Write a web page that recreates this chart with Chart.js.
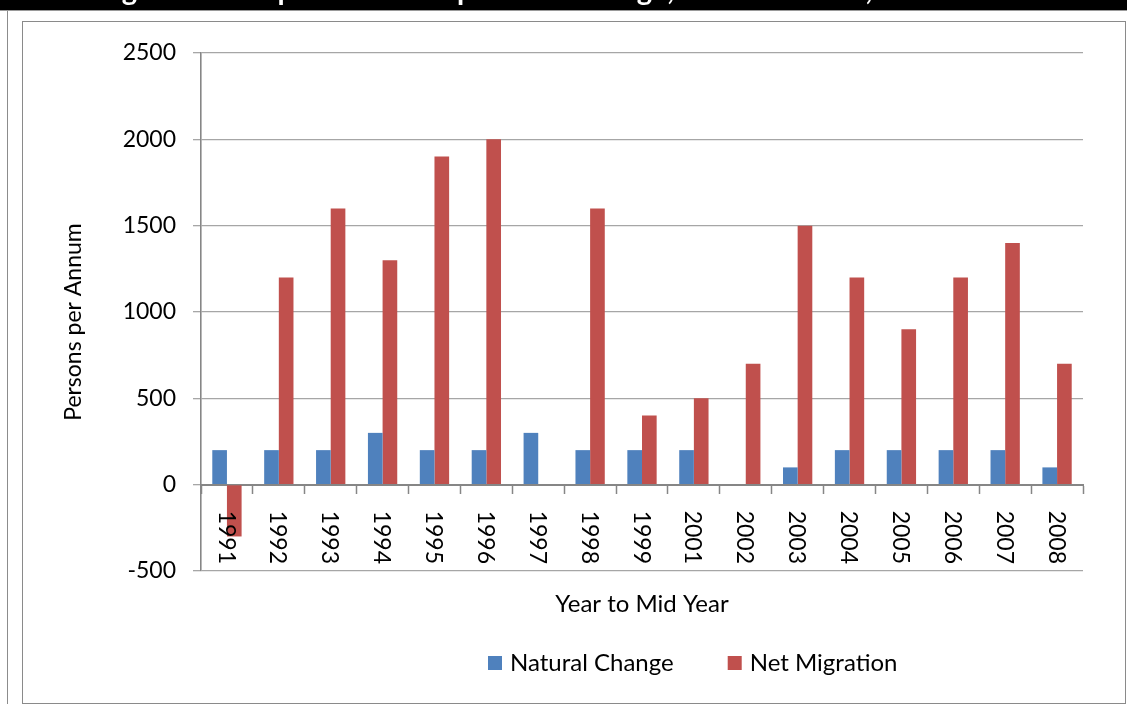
<!DOCTYPE html>
<html>
<head>
<meta charset="utf-8">
<script src="https://cdn.jsdelivr.net/npm/chart.js@4.4.1/dist/chart.umd.min.js"></script>
<style>
  html, body { margin: 0; padding: 0; background: #fff; width: 1127px; height: 704px; overflow: hidden; }
  #topbar { position: absolute; left: 0; top: 0; width: 1127px; height: 10px; background: #000; }
  #topline { position: absolute; left: 0; top: 10px; width: 1127px; height: 1px; background: #9a9a9a; }
  #outer { position: absolute; left: 7px; top: 11px; width: 1px; height: 693px; background: #8c8c8c; }
  #frame { position: absolute; left: 22px; top: 21px; width: 1104px; height: 683px; box-sizing: border-box; border: 1px solid #8a8a8a; }
  #chart { position: absolute; left: 0; top: 0; z-index: 2; }
</style>
</head>
<body>
<div id="topbar"></div>
<div id="topline"></div>
<div id="outer"></div>
<div id="frame"></div>
<canvas id="chart" width="1127" height="704"></canvas>
<script>
// Years to mid year (no 2000 entry in the series)
const years = ['1991', '1992', '1993', '1994', '1995', '1996', '1997', '1998', '1999',
               '2001', '2002', '2003', '2004', '2005', '2006', '2007', '2008'];

// Persons per annum
const naturalChange = [200, 200, 200, 300, 200, 200, 300, 200, 200, 200, 0, 100, 200, 200, 200, 200, 100];
const netMigration  = [-300, 1200, 1600, 1300, 1900, 2000, 0, 1600, 400, 500, 700, 1500, 1200, 900, 1200, 1400, 700];

const seriesNames  = ['Natural Change', 'Net Migration'];
const seriesColors = ['#4F81BD', '#C0504D'];

// Value axis: -500 to 2500 in steps of 500
const yRange = [-500, 2500];
const yStep = 500;

const figureTitle = 'Figure 5: Components of Population Change, the Local Area, 1991\u20132008';
const xTitle = 'Year to Mid Year';
const yTitle = 'Persons per Annum';

const FONT = 'Lato';

// Draws the rotated year labels under the zero line, axis titles and the legend
const annotate = {
  id: 'annotate',
  beforeDraw(chart) {
    const ctx = chart.ctx;
    ctx.save();
    ctx.fillStyle = '#fff';
    ctx.font = 'bold 29px ' + FONT;
    ctx.textBaseline = 'alphabetic';
    ctx.textAlign = 'left';
    ctx.fillText(figureTitle, 98, 0);
    ctx.restore();
  },
  afterDraw(chart) {
    const { ctx, chartArea } = chart;
    const x = chart.scales.x, y = chart.scales.y;
    const zeroY = y.getPixelForValue(0);
    ctx.save();
    ctx.fillStyle = '#000';

    // year labels, reading top to bottom
    ctx.font = '23px ' + FONT;
    ctx.textAlign = 'left';
    ctx.textBaseline = 'middle';
    chart.data.labels.forEach((lab, i) => {
      const px = x.getPixelForValue(i);
      ctx.save();
      ctx.translate(px - 1, zeroY + 26);
      ctx.rotate(Math.PI / 2);
      ctx.fillText(lab, 0, 0);
      ctx.restore();
    });

    // category axis title
    ctx.font = '24px ' + FONT;
    ctx.textAlign = 'center';
    ctx.textBaseline = 'alphabetic';
    ctx.fillText(xTitle, (chartArea.left + chartArea.right) / 2, 612);

    // value axis title
    ctx.save();
    ctx.font = '23px ' + FONT;
    ctx.translate(81, 322);
    ctx.rotate(-Math.PI / 2);
    ctx.fillText(yTitle, 0, 0);
    ctx.restore();

    // legend
    ctx.font = '24px ' + FONT;
    ctx.textAlign = 'left';
    let lx = 488;
    const base = 671;
    chart.data.datasets.forEach(ds => {
      ctx.fillStyle = ds.backgroundColor;
      ctx.fillRect(lx, base - 15, 14, 14);
      lx += 22;
      ctx.fillStyle = '#000';
      ctx.fillText(ds.label, lx, base);
      lx += ctx.measureText(ds.label).width + 54;
    });
    ctx.restore();
  }
};

new Chart(document.getElementById('chart'), {
  type: 'bar',
  data: {
    labels: years,
    datasets: [
      { label: seriesNames[0], data: naturalChange, backgroundColor: seriesColors[0] },
      { label: seriesNames[1], data: netMigration, backgroundColor: seriesColors[1] }
    ]
  },
  options: {
    responsive: false,
    devicePixelRatio: 1,
    animation: false,
    categoryPercentage: 0.565,
    barPercentage: 1.0,
    layout: { padding: { left: 23, top: 53, right: 44, bottom: 133 } },
    plugins: {
      legend: { display: false },
      title: { display: false },
      tooltip: { enabled: false }
    },
    scales: {
      x: {
        axis: 'x',
        position: { y: 0 },
        z: 1,
        offset: true,
        grid: {
          offset: true,
          drawOnChartArea: false,
          drawTicks: true,
          tickLength: 8,
          tickColor: '#868686',
          tickWidth: 1.5
        },
        border: { display: true, color: '#868686', width: 2 },
        ticks: { display: false }
      },
      y: {
        min: yRange[0],
        max: yRange[1],
        afterFit(scale) { scale.width = 178; },
        grid: {
          color: '#A6A6A6',
          lineWidth: 1.3,
          drawTicks: true,
          tickLength: 8,
          tickColor: '#A6A6A6'
        },
        border: { display: true, color: '#868686', width: 1.6 },
        ticks: {
          stepSize: yStep,
          padding: 17,
          color: '#000',
          font: { family: FONT, size: 23 },
          callback: v => String(v)
        }
      }
    }
  },
  plugins: [annotate]
});
</script>
</body>
</html>
